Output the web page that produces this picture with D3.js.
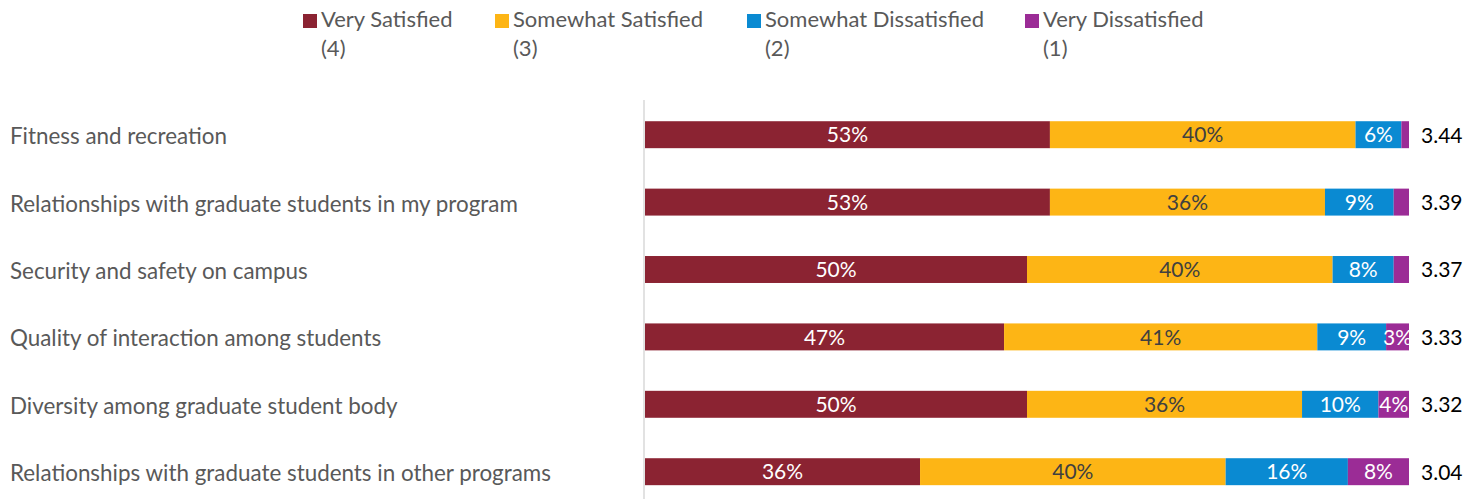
<!DOCTYPE html>
<html>
<head>
<meta charset="utf-8">
<script src="https://cdn.jsdelivr.net/npm/d3@7"></script>
<style>
  html, body { margin: 0; padding: 0; background: #fff; }
  svg { display: block; font-family: Lato, "Open Sans", sans-serif; }
</style>
</head>
<body>
<svg id="chart" width="1478" height="499"></svg>
<script>
// Satisfaction with campus life items, share of responses (%)
const categories = [
  "Fitness and recreation",
  "Relationships with graduate students in my program",
  "Security and safety on campus",
  "Quality of interaction among students",
  "Diversity among graduate student body",
  "Relationships with graduate students in other programs"
];
const verySatisfied      = [53, 53, 50, 47, 50, 36];
const somewhatSatisfied  = [40, 36, 40, 41, 36, 40];
const somewhatDissatisfied = [6, 9, 8, 9, 10, 16];
const veryDissatisfied   = [1, 2, 2, 3, 4, 8];
const meanScores = ["3.44", "3.39", "3.37", "3.33", "3.32", "3.04"];

const seriesNames = ["Very Satisfied", "Somewhat Satisfied", "Somewhat Dissatisfied", "Very Dissatisfied"];
const seriesCodes = ["(4)", "(3)", "(2)", "(1)"];
const seriesColors = ["#8B2332", "#FDB515", "#0A8AD2", "#9B2C96"];
const labelColors = ["#ffffff", "#404040", "#ffffff", "#ffffff"];

const svg = d3.select("#chart");

const rows = categories.map((c, i) => ({
  category: c,
  values: [verySatisfied[i], somewhatSatisfied[i], somewhatDissatisfied[i], veryDissatisfied[i]],
  mean: meanScores[i]
}));

const x = d3.scaleLinear().domain([0, 100]).range([645, 1409]);
const y = d3.scaleBand().domain(categories).range([101, 505.4])
  .paddingInner(0.6).paddingOuter(0.3);

// vertical baseline
svg.append("line")
  .attr("x1", x(0) - 1).attr("x2", x(0) - 1)
  .attr("y1", 100).attr("y2", 499)
  .attr("stroke", "#d9d9d9").attr("stroke-width", 1.5);

// category labels
svg.append("g").selectAll("text")
  .data(categories).join("text")
  .attr("x", 10)
  .attr("y", d => y(d) + y.bandwidth() / 2 + 9.5)
  .attr("font-size", 22.4)
  .attr("fill", "#595959")
  .text(d => d);

// stacked segments
const rowG = svg.append("g").selectAll("g")
  .data(rows).join("g")
  .attr("transform", d => `translate(0,${y(d.category)})`);

rowG.each(function (d) {
  const g = d3.select(this);
  let acc = 0;
  const segs = d.values.map((v, k) => {
    const s = { k, v, x0: acc, x1: acc + v };
    acc += v;
    return s;
  });
  g.selectAll("rect").data(segs).join("rect")
    .attr("x", s => x(s.x0))
    .attr("width", s => x(s.x1) - x(s.x0))
    .attr("y", 0)
    .attr("height", y.bandwidth())
    .attr("fill", s => seriesColors[s.k]);
  g.selectAll("text.val").data(segs.filter(s => s.v >= 3)).join("text")
    .attr("class", "val")
    .attr("x", s => (x(s.x0) + x(s.x1)) / 2)
    .attr("y", y.bandwidth() / 2 + 7.7)
    .attr("text-anchor", "middle")
    .attr("font-size", 21)
    .attr("fill", s => labelColors[s.k])
    .text(s => s.v + "%");
  g.append("text")
    .attr("x", 1421)
    .attr("y", y.bandwidth() / 2 + 8)
    .attr("font-size", 21)
    .attr("fill", "#000")
    .text(d.mean);
});

// legend
const legendX = [303, 495, 747, 1025];
const legend = svg.append("g").selectAll("g")
  .data(seriesNames).join("g")
  .attr("transform", (d, i) => `translate(${legendX[i]},0)`);
legend.append("rect")
  .attr("x", 0).attr("y", 14).attr("width", 14).attr("height", 14)
  .attr("fill", (d, i) => seriesColors[i]);
legend.append("text")
  .attr("x", 18).attr("y", 27)
  .attr("font-size", 22).attr("fill", "#595959")
  .text(d => d);
legend.append("text")
  .attr("x", 18).attr("y", 56)
  .attr("font-size", 22).attr("fill", "#595959")
  .text((d, i) => seriesCodes[i]);
</script>
</body>
</html>
